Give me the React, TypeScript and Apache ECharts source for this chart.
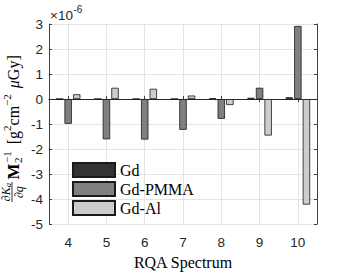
import { useEffect, useRef } from 'react';
import * as echarts from 'echarts';

// RQA spectrum categories
const categories = ['4', '5', '6', '7', '8', '9', '10'];
const seriesNames = ['Gd', 'Gd-PMMA', 'Gd-Al'];
// values in units of 1e-6 (g^2 cm^-2 uGy)
const gdValues = [0.005, 0.005, 0.005, 0.005, 0.03, 0.05, 0.07];
const gdPmmaValues = [-0.99, -1.61, -1.62, -1.23, -0.79, 0.45, 2.92];
const gdAlValues = [0.19, 0.45, 0.41, 0.14, -0.24, -1.46, -4.22];
const seriesColors = ['#333333', '#808080', '#cccccc'];
const yMin = -5;
const yMax = 3;
const yInterval = 1;

const AXIS = '#404040';
const GRID = '#e4e4e4';
const SERIF = "'Liberation Serif', serif";
const SANS = "'Liberation Sans', sans-serif";

function measure(text: string, font: string): number {
  const c = document.createElement('canvas').getContext('2d');
  if (!c) return text.length * 8;
  c.font = font;
  return c.measureText(text).width;
}

function buildYTitle(cx: number, cy: number) {
  const children: any[] = [];
  const fracFont = 'italic 12px ' + SERIF;
  const subFont = 'italic 8.5px ' + SERIF;
  const numW = measure('∂K', fracFont) + measure('a', subFont);
  const denW = measure('∂q', fracFont);
  const Wf = Math.max(numW, denW) + 3;
  const barY = -1;
  const nx0 = (Wf - numW) / 2;
  children.push({ type: 'text', x: nx0, y: barY - 6.5, style: { text: '∂K', font: fracFont, fill: '#000', align: 'left', verticalAlign: 'middle' } });
  children.push({ type: 'text', x: nx0 + measure('∂K', fracFont), y: barY - 4, style: { text: 'a', font: subFont, fill: '#000', align: 'left', verticalAlign: 'middle' } });
  children.push({ type: 'line', shape: { x1: 0.5, y1: barY, x2: Wf - 0.5, y2: barY }, style: { stroke: '#000', lineWidth: 0.8 } });
  children.push({ type: 'text', x: (Wf - denW) / 2, y: barY + 7, style: { text: '∂q', font: fracFont, fill: '#000', align: 'left', verticalAlign: 'middle' } });
  let x = Wf + 2;
  const mFont = 'bold 17px ' + SERIF;
  children.push({ type: 'text', x, y: 0, style: { text: 'M', font: mFont, fill: '#000', align: 'left', verticalAlign: 'middle' } });
  x += measure('M', mFont) + 0.5;
  const scriptFont = '11px ' + SERIF;
  children.push({ type: 'text', x, y: -6, style: { text: '−1', font: scriptFont, fill: '#000', align: 'left', verticalAlign: 'middle' } });
  children.push({ type: 'text', x, y: 5, style: { text: '2', font: scriptFont, fill: '#000', align: 'left', verticalAlign: 'middle' } });
  x += measure('−1', scriptFont) + 7;
  const mainFont = '16px ' + SERIF;
  const pieces: [string, string, number][] = [
    ['[g', mainFont, 0],
    ['2', scriptFont, -6],
    ['cm', mainFont, 0],
    ['−2', scriptFont, -6],
  ];
  for (const [t, f, dy] of pieces) {
    children.push({ type: 'text', x, y: dy, style: { text: t, font: f, fill: '#000', align: 'left', verticalAlign: 'middle' } });
    x += measure(t, f);
  }
  x += 6;
  const muFont = 'italic 16px ' + SERIF;
  children.push({ type: 'text', x, y: 0, style: { text: 'μ', font: muFont, fill: '#000', align: 'left', verticalAlign: 'middle' } });
  x += measure('μ', muFont);
  children.push({ type: 'text', x, y: 0, style: { text: 'Gy]', font: mainFont, fill: '#000', align: 'left', verticalAlign: 'middle' } });
  x += measure('Gy]', mainFont);
  const L = x;
  return { type: 'group', x: cx, y: cy + L / 2, rotation: Math.PI / 2, children };
}

export default function App() {
  const ref = useRef<HTMLDivElement>(null);
  useEffect(() => {
    if (!ref.current) return;
    const chart = echarts.init(ref.current, null, { renderer: 'svg' });
    const topCats: string[] = ['b0'];
    categories.forEach((c, i) => {
      topCats.push(c);
      topCats.push('b' + (i + 1));
    });
    const oddOnly = (idx: number) => idx % 2 === 1;
    const data = [gdValues, gdPmmaValues, gdAlValues];
    const series: any[] = seriesNames.map((name, i) => ({
      name,
      type: 'bar',
      xAxisIndex: 0,
      yAxisIndex: 0,
      data: data[i],
      barWidth: 7.4,
      barGap: '16%',
      itemStyle: { color: seriesColors[i], borderColor: '#1a1a1a', borderWidth: 0.8 },
      z: 3,
    }));
    series[0].markLine = {
      silent: true,
      symbol: ['none', 'none'],
      label: { show: false },
      lineStyle: { color: '#262626', width: 1, type: 'solid' },
      data: [{ yAxis: 0 }],
      z: 2,
    };
    const xLabelStart = 50;
    const x10w = measure('×10', '13.5px ' + SANS);
    chart.setOption({
      animation: false,
      backgroundColor: '#fff',
      grid: { left: 49, top: 24, width: 268, height: 205, containLabel: false },
      legend: {
        data: seriesNames,
        orient: 'vertical',
        left: 67,
        top: 157,
        itemWidth: 42,
        itemHeight: 14,
        itemGap: 3,
        icon: 'rect',
        textStyle: { fontFamily: SERIF, fontSize: 16, color: '#000', lineHeight: 16 },
      },
      xAxis: [
        {
          type: 'category',
          data: categories,
          position: 'bottom',
          boundaryGap: true,
          axisLine: { show: true, lineStyle: { color: AXIS, width: 1 } },
          axisTick: { show: true, inside: true, alignWithLabel: true, length: 3, lineStyle: { color: AXIS } },
          axisLabel: { color: '#262626', fontFamily: SANS, fontSize: 13.5, margin: 11 },
          splitLine: { show: false },
          name: 'RQA Spectrum',
          nameLocation: 'middle',
          nameGap: 26,
          nameTextStyle: { fontFamily: SERIF, fontSize: 16, color: '#000', verticalAlign: 'top' },
        },
        {
          type: 'category',
          data: topCats,
          position: 'top',
          boundaryGap: false,
          axisLine: { show: true, lineStyle: { color: AXIS, width: 1 } },
          axisTick: { show: true, inside: true, length: 3, interval: oddOnly, lineStyle: { color: AXIS } },
          axisLabel: { show: false },
          splitLine: { show: true, interval: oddOnly, lineStyle: { color: GRID, width: 1 } },
        },
      ],
      yAxis: [
        {
          type: 'value',
          min: yMin,
          max: yMax,
          interval: yInterval,
          position: 'left',
          axisLine: { show: true, lineStyle: { color: AXIS, width: 1 } },
          axisTick: { show: true, inside: true, length: 3, lineStyle: { color: AXIS } },
          axisLabel: { color: '#262626', fontFamily: SANS, fontSize: 13.5, margin: 6 },
          splitLine: { show: true, lineStyle: { color: GRID, width: 1 } },
        },
        {
          type: 'value',
          min: yMin,
          max: yMax,
          interval: yInterval,
          position: 'right',
          axisLine: { show: true, lineStyle: { color: AXIS, width: 1 } },
          axisTick: { show: true, inside: true, length: 3, lineStyle: { color: AXIS } },
          axisLabel: { show: false },
          splitLine: { show: false },
        },
      ],
      graphic: [
        buildYTitle(13, 129),
        { type: 'text', x: xLabelStart, y: 22, style: { text: '×10', font: '13.5px ' + SANS, fill: '#262626', align: 'left', verticalAlign: 'bottom' } },
        { type: 'text', x: xLabelStart + x10w + 0.5, y: 14, style: { text: '-6', font: '10px ' + SANS, fill: '#262626', align: 'left', verticalAlign: 'bottom' } },
      ],
      series,
    });
    return () => chart.dispose();
  }, []);
  return <div ref={ref} style={{ position: 'fixed', left: 0, top: 0, width: 350, height: 275 }} />;
}
